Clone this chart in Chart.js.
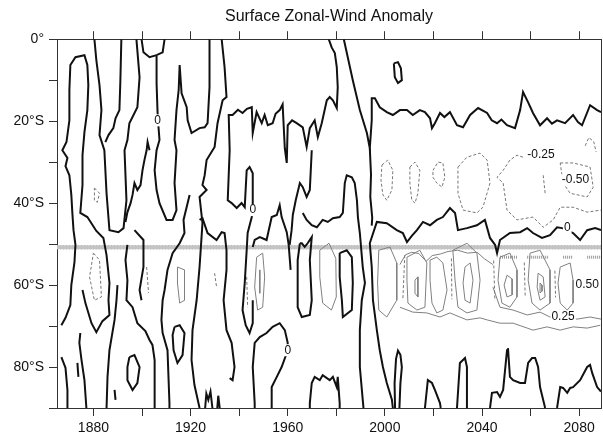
<!DOCTYPE html>
<html>
<head>
<meta charset="utf-8">
<script src="https://cdn.jsdelivr.net/npm/chart.js@4.4.1/dist/chart.umd.min.js"></script>
<style>
  body { margin: 0; background: #fff; }
  #wrap { width: 603px; height: 438px; }
</style>
</head>
<body>
<div id="wrap"><canvas id="chart1" width="603" height="438"></canvas></div>
<script>
// axis ticks
var yearTicks = [1880, 1900, 1920, 1940, 1960, 1980, 2000, 2020, 2040, 2060, 2080];
var latTicks = [0, 10, 20, 30, 40, 50, 60, 70, 80, 90];

// zero contours (thick black), points are [year, latitude south]
var zeroLines = [
  [[1866.8,69.8],[1868.5,68.0],[1870.5,64.9],[1870.9,60.0],[1872.2,54.4],[1872.6,50.2],[1871.8,46.6],[1871.3,42.2],[1870.9,38.0],[1870.1,33.2],[1868.5,31.0],[1869.3,29.0],[1867.2,27.1],[1868.9,25.1],[1870.1,19.8],[1870.1,12.4],[1870.5,6.3],[1872.6,4.4],[1876.3,3.9],[1877.5,6.3],[1877.9,11.2],[1877.5,17.3],[1876.3,22.7],[1875.5,28.3],[1875.5,35.6],[1874.6,42.4],[1877.5,43.4],[1881.2,46.8],[1884.1,48.5],[1885.4,52.7],[1886.6,59.5],[1886.2,63.7],[1886.6,67.3],[1883.7,68.8],[1881.2,71.5],[1879.2,69.3],[1876.7,64.4],[1875.5,61.2]],
  [[1866.8,77.6],[1868.5,80.2],[1869.3,85.6],[1869.3,90]],
  [[1877.1,90],[1876.3,83.2],[1875.1,78.3],[1874.2,74.1],[1874.6,71.7]],
  [[1880.4,0],[1881.2,5.1],[1882.5,11.2],[1883.3,17.3],[1882.5,23.4],[1884.5,27.1],[1885.4,37.6],[1886.6,46.6],[1890.3,47.1],[1892.4,46.1],[1893.6,39.3],[1892.8,27.1],[1894.0,24.6],[1894.8,20.5],[1898.1,16.6],[1899.0,9.3],[1897.7,0]],
  [[1891.5,0],[1891.1,10.0],[1890.7,17.3],[1889.1,19.3],[1888.2,21.7],[1886.2,23.4],[1884.9,25.1]],
  [[1899.8,0],[1900.6,3.2],[1903.1,4.4],[1906.0,3.9],[1908.5,3.2],[1909.3,0]],
  [[1906.0,4.1],[1906.0,10.7],[1906.4,17.8],[1906.8,21.5],[1907.2,24.6],[1906.0,27.1],[1905.2,32.0],[1906.0,36.8],[1907.2,40.0],[1910.1,44.1],[1912.6,44.1],[1914.2,41.7],[1913.4,35.1],[1914.2,27.1],[1913.4,24.6],[1914.2,17.3],[1915.1,12.4],[1915.5,6.3],[1916.3,13.2],[1918.4,16.6],[1918.8,19.8],[1920.4,22.9],[1923.7,21.7],[1925.8,21.5],[1927.0,20.5],[1927.8,11.7],[1927.8,0]],
  [[1903.1,27.1],[1902.3,25.1],[1901.9,27.1],[1901.0,29.5],[1900.2,32.0],[1899.4,35.6],[1898.1,36.8],[1896.9,35.1],[1896.1,38.0],[1895.3,40.0],[1894.0,42.2],[1893.2,44.6]],
  [[1932.8,0],[1934.0,6.8],[1934.8,14.1],[1933.2,14.9],[1931.1,20.5],[1929.9,26.3],[1926.6,29.5],[1925.8,33.2],[1924.9,35.6],[1926.6,36.8],[1923.7,38.5],[1924.9,44.9],[1923.7,55.6],[1922.5,63.7],[1920.8,71.0],[1920.4,78.3],[1921.6,84.4],[1923.7,90]],
  [[1945.6,63.7],[1945.6,69.3],[1944.3,71.7],[1942.7,69.8],[1941.4,66.1],[1942.3,59.5],[1943.1,51.5],[1943.5,47.3],[1945.2,43.4],[1945.6,40.5],[1945.6,32.7],[1944.3,31.2],[1943.1,32.0],[1942.3,41.0],[1941.0,40.0],[1939.0,41.2],[1936.9,40.0],[1935.3,39.3],[1936.1,27.1],[1935.7,18.5],[1937.3,18.5],[1939.5,17.2],[1941.4,18.0],[1943.2,17.0],[1945.2,16.6],[1945.6,22.9],[1947.2,17.8],[1949.3,20.5],[1950.5,18.5],[1951.8,21.0],[1953.8,20.5],[1955.0,18.2],[1956.7,17.3],[1957.9,15.9],[1958.8,26.6],[1959.6,30.2],[1960.0,21.0],[1961.8,19.8],[1963.7,20.5],[1966.2,21.5],[1967.8,26.3],[1969.1,21.7],[1971.1,19.8],[1972.4,23.9],[1974.0,20.5],[1976.1,14.9],[1977.3,14.1],[1978.6,14.9],[1980.2,16.8],[1980.6,11.7],[1980.2,6.8],[1979.4,3.4],[1978.1,2.0],[1976.9,0]],
  [[1923.7,44.1],[1924.9,43.7],[1927.0,47.3],[1930.7,49.0],[1932.8,47.1],[1934.0,47.3],[1934.8,51.5],[1934.8,56.3],[1933.6,63.7],[1934.8,71.0],[1936.9,74.1],[1938.1,80.0],[1937.3,83.2],[1936.1,82.7]],
  [[1945.6,50.7],[1946.4,49.0],[1948.5,48.3],[1951.3,49.0],[1953.4,43.4],[1955.5,42.9],[1956.7,40.5],[1957.5,43.4],[1959.6,47.1],[1960.4,50.2],[1961.2,56.3]],
  [[1969.9,27.1],[1969.1,36.8],[1967.8,38.5],[1966.2,36.1],[1965.0,35.1],[1963.3,39.3],[1962.1,42.9],[1961.6,46.6],[1960.8,50.2]],
  [[1965.0,49.8],[1964.1,53.9],[1964.1,65.4],[1965.8,67.8],[1969.1,67.3],[1969.9,63.7],[1969.1,53.9],[1969.9,48.3],[1968.2,49.8],[1967.0,50.7],[1965.8,49.8],[1965.0,49.8]],
  [[1966.2,42.4],[1967.8,44.1],[1969.9,45.4],[1972.0,45.9],[1974.4,44.1],[1976.5,44.6],[1978.6,43.7],[1981.4,43.4],[1982.7,42.4],[1983.5,35.1],[1984.3,33.2],[1986.4,33.7],[1987.6,35.1],[1988.5,39.3],[1988.9,43.4],[1989.7,47.3],[1990.9,55.6],[1991.8,59.5],[1990.5,63.7],[1989.7,71.0],[1989.7,80.0],[1990.9,88.0],[1991.2,90]],
  [[1983.1,0],[1986.8,10.0],[1989.7,17.3],[1992.6,22.9],[1993.8,26.6],[1994.6,19.8],[1994.6,14.4],[1995.9,14.4],[1997.9,16.6],[2000.8,17.8],[2003.3,18.5],[2006.2,17.3],[2009.1,17.3],[2011.5,18.5],[2014.4,17.3],[2016.5,17.8],[2018.6,19.3],[2019.4,21.7],[2020.6,20.5],[2022.7,18.0],[2024.5,19.0],[2026.8,17.8],[2029.7,21.0],[2032.2,21.5],[2035.1,18.5],[2038.4,16.8],[2042.1,18.0],[2044.0,19.8],[2046.2,20.5],[2048.0,19.6],[2050.3,21.0],[2053.6,21.7],[2055.7,17.3],[2056.9,12.9],[2059.0,15.4],[2061.0,18.0],[2063.9,21.0],[2066.8,19.3],[2068.8,20.6],[2070.9,19.8],[2074.2,20.5],[2077.5,18.5],[2079.5,20.2],[2081.2,21.0],[2084.5,16.1],[2087.4,17.3],[2089,17.8]],
  [[1993.8,26.6],[1994.3,33.0],[1994.0,38.5],[1994.8,43.5],[1994.6,45.5]],
  [[2003.3,90],[2002.9,88.0],[2000.8,83.9],[1999.2,80.0],[1997.9,75.9],[1996.7,71.0],[1995.1,63.7],[1994.6,55.6],[1993.8,49.8],[1996.7,44.6],[2000.8,44.9],[2004.9,46.6],[2007.4,47.3],[2009.1,49.5],[2011.1,48.0],[2013.2,46.6],[2015.7,44.6],[2018.6,45.4],[2021.4,44.1],[2023.9,43.4],[2026.8,41.2],[2028.9,42.4],[2030.1,46.6],[2033.8,46.1],[2037.9,45.4],[2041.2,44.1],[2043.3,48.5],[2045.4,50.2],[2046.2,52.2],[2047.4,49.0],[2051.5,47.3],[2055.7,47.1],[2058.6,46.1],[2061.0,47.3],[2064.7,48.5],[2068.0,47.8],[2070.9,45.9],[2073.0,46.1],[2077.5,47.3],[2080.4,49.0],[2083.3,46.6],[2086.6,46.1],[2089,46.6]],
  [[1981.4,52.2],[1984.3,51.5],[1986.4,53.2],[1986.8,59.5],[1986.4,66.1],[1982.7,67.8],[1982.3,63.7],[1981.4,58.0],[1981.4,52.2]],
  [[2003.7,5.9],[2005.4,5.6],[2006.6,7.1],[2007.0,10.0],[2005.4,10.7],[2004.1,9.3],[2003.7,5.9]],
  [[1919.6,38.0],[1917.1,44.1],[1917.5,47.3],[1915.5,49.8],[1912.6,52.2],[1910.5,56.3],[1909.3,61.2],[1908.5,63.7],[1908.0,68.5],[1908.5,71.7],[1910.5,75.9],[1911.3,88.8],[1911.3,90]],
  [[1889.9,60.0],[1889.5,63.7],[1888.7,68.5],[1886.6,75.9],[1885.8,82.4],[1885.4,90]],
  [[1894.0,50.2],[1893.2,53.9],[1894.0,58.8],[1893.6,63.7],[1896.1,65.4],[1898.1,69.3],[1901.4,71.2],[1903.1,73.4],[1904.3,74.6],[1905.2,78.3],[1905.2,90]],
  [[1896.9,46.6],[1900.6,49.0],[1900.6,55.6],[1899.0,61.2],[1899.8,63.7]],
  [[1913.4,70.2],[1915.5,69.8],[1917.5,71.7],[1916.7,77.1],[1914.6,79.0],[1913.0,75.9],[1912.6,72.2],[1913.4,70.2]],
  [[1894.8,77.6],[1896.9,77.1],[1899.0,80.0],[1898.1,83.9],[1896.1,85.6],[1894.0,83.2],[1894.0,80.0],[1894.8,77.6]],
  [[1873.4,79.0],[1873.8,82.4]],
  [[1888.7,85.6],[1889.1,88.0]],
  [[1946.4,90],[1946.4,88.8],[1945.6,80.0],[1946.4,74.1],[1948.5,72.7],[1951.3,71.7],[1953.8,70.2],[1956.7,69.3],[1958.8,71.0],[1960.0,74.1],[1959.6,76.6],[1957.5,80.0],[1955.5,82.4],[1953.4,84.9],[1953.4,90]],
  [[1969.1,90],[1969.1,88.8],[1969.9,83.9],[1971.1,82.4],[1973.2,83.2],[1974.4,82.0],[1977.3,83.2],[1978.6,82.4],[1980.2,84.9],[1980.6,82.4],[1981.4,88.8],[1981.4,90]],
  [[2004.2,90],[2004.0,84.0],[2004.6,78.0],[2005.4,76.0],[2006.4,77.0],[2007.0,80.0],[2006.4,84.0],[2006.0,90]],
  [[2016.5,90],[2017.7,83.2],[2019.4,83.9],[2020.6,85.6],[2022.7,88.8],[2023.0,90]],
  [[2029.7,90],[2030.9,79.0],[2033.0,77.8],[2033.8,80.0],[2033.8,90]],
  [[2043.3,90],[2044.1,86.3],[2046.2,86.1],[2047.4,87.3],[2048.7,85.6],[2050.3,75.9],[2050.7,75.4],[2051.5,82.4],[2052.8,83.2],[2055.7,83.9],[2057.7,83.9],[2059.0,79.0],[2060.6,77.8],[2061.9,77.8],[2063.1,80.0],[2063.9,84.9],[2066.0,90]],
  [[2070.9,90],[2072.2,84.9],[2073.4,85.1],[2075.1,86.3],[2076.3,85.1],[2077.5,84.9],[2080.4,83.2],[2083.3,80.0],[2084.5,79.5],[2085.4,81.5],[2087.4,84.9],[2089,86.0]],
  [[1926.0,90],[1926.5,86.5],[1927.3,88.0],[1928.2,86.0],[1929.0,90]],
  [[1931.0,90],[1931.4,87.0],[1932.0,90]]
];

// negative contours (dashed grey)
var negLines = [
  [[1998.8,30.7],[2001.2,29.5],[2003.3,32.0],[2002.9,36.8],[2000.8,39.3],[1999.2,38.0],[1998.4,34.4],[1998.8,30.7]],
  [[2010.3,31.2],[2012.4,30.0],[2014.4,32.0],[2013.6,37.6],[2012.4,40.0],[2011.1,39.3],[2010.3,35.1],[2010.3,31.2]],
  [[2019.8,32.0],[2021.9,30.0],[2023.9,30.2],[2024.7,33.7],[2023.5,36.1],[2021.4,35.1],[2019.8,33.7],[2019.8,32.0]],
  [[2030.1,31.2],[2033.8,28.8],[2039.2,27.8],[2042.1,29.5],[2043.3,35.1],[2040.4,41.0],[2037.9,42.4],[2032.2,41.7],[2030.1,37.6],[2030.1,31.2]],
  [[2056.9,28.8],[2054.4,28.3],[2051.5,29.5],[2048.7,32.0],[2046.2,33.7],[2048.7,35.1],[2050.3,41.7],[2054.4,44.1],[2061.0,43.4],[2065.2,45.9],[2069.3,44.1],[2072.2,41.0],[2077.5,41.0],[2083.3,42.2],[2089,41.7]],
  [[2072.2,30.2],[2077.5,30.2],[2084.5,31.2],[2085.8,36.1],[2083.3,38.5],[2076.3,37.6],[2073.4,35.1],[2072.2,30.2]],
  [[2082.5,26.0],[2084.0,24.0],[2086.0,25.0],[2087.0,27.5]],
  [[2065.2,33.2],[2066.0,37.6]],
  [[1880.0,52.2],[1882.5,53.9],[1883.3,62.9],[1880.4,63.7],[1878.4,58.0],[1880.0,52.2]],
  [[1880.4,36.3],[1882.5,37.6],[1881.6,39.8],[1880.4,39.3],[1880.4,36.3]],
  [[1901.9,55.6],[1902.7,61.9]],
  [[1929.9,57.1],[1930.7,60.5]],
  [[1943.1,58.0],[1943.5,65.4]],
  [[2008.2,52.7],[2007.4,63.7]],
  [[2027.4,53.5],[2027.6,63.5]],
  [[2044.8,54.0],[2045.3,63.8]],
  [[2057.4,54.5],[2057.8,63.0]],
  [[2070.0,56.5],[2070.3,63.0]]
];

// positive contours (thin grey)
var posLines = [
  [[2006.2,65.4],[2011.5,66.6],[2017.3,66.8],[2022.7,67.8],[2026.8,66.8],[2030.9,67.8],[2033.8,68.5],[2039.2,68.0],[2042.1,68.5],[2047.4,69.3],[2052.8,69.3],[2058.6,70.5],[2061.0,71.0],[2066.8,70.2],[2072.2,71.0],[2077.5,70.2],[2083.3,70.5],[2088.7,69.8]],
  [[2044.5,60.5],[2047.4,65.4],[2052.8,66.1],[2058.6,67.3],[2063.9,66.6],[2068.0,67.8],[2079.2,68.3],[2084.5,67.8],[2089,68.3]],
  [[2006.2,55.0],[2008.5,52.6],[2011.0,52.0],[2014.0,52.3],[2017.0,54.2],[2019.5,52.8],[2023.0,52.4],[2026.0,51.8],[2030.0,51.5],[2034.0,52.2],[2038.0,52.0],[2041.0,53.6],[2044.5,55.0]],
  [[2009.1,53.2],[2014.4,51.5],[2017.3,54.6],[2016.5,65.4],[2013.2,66.1],[2009.5,64.4],[2009.1,58.8],[2009.1,53.2]],
  [[2012.4,58.8],[2013.6,58.0],[2013.6,62.9],[2012.4,62.0],[2012.4,58.8]],
  [[2018.6,53.9],[2021.4,53.2],[2023.9,54.6],[2025.6,61.2],[2023.9,66.1],[2021.4,66.8],[2019.4,64.4],[2018.6,58.8],[2018.6,53.9]],
  [[2028.0,51.5],[2033.8,49.8],[2037.9,52.2],[2039.2,58.8],[2037.9,66.1],[2033.8,66.8],[2030.1,65.4],[2028.9,58.8],[2028.0,51.5]],
  [[2033.0,55.6],[2035.1,54.6],[2036.3,58.8],[2035.1,64.4],[2033.0,63.7],[2032.2,59.5],[2033.0,55.6]],
  [[2047.4,53.2],[2051.5,52.2],[2054.4,56.3],[2054.4,62.9],[2051.5,65.4],[2048.2,64.4],[2046.6,58.8],[2047.4,53.2]],
  [[2050.3,57.6],[2052.4,58.5],[2052.4,62.4],[2050.3,62.9],[2049.1,60.0],[2050.3,57.6]],
  [[2059.8,52.2],[2063.9,51.5],[2068.0,56.3],[2068.0,64.4],[2063.9,66.1],[2060.6,64.4],[2059.0,58.8],[2059.8,52.2]],
  [[2063.1,57.1],[2065.2,58.0],[2066.0,62.9],[2063.9,63.7],[2062.7,60.5],[2063.1,57.1]],
  [[2063.9,59.5],[2064.7,60.0],[2064.7,61.5],[2063.9,61.9],[2063.9,59.5]],
  [[2072.2,55.6],[2076.3,54.6],[2077.5,58.8],[2077.5,64.4],[2075.1,66.1],[2072.2,64.4],[2071.3,59.5],[2072.2,55.6]],
  [[1947.2,53.2],[1949.7,52.2],[1950.5,58.0],[1949.7,65.4],[1947.6,66.1],[1946.4,60.5],[1947.2,53.2]],
  [[1948.5,56.3],[1948.5,62.0]],
  [[1973.2,51.5],[1977.0,49.8],[1979.8,53.5],[1980.0,62.9],[1978.0,66.1],[1974.4,64.4],[1973.2,58.0],[1973.2,51.5]],
  [[1997.5,51.5],[2002.1,50.7],[2004.9,54.6],[2004.9,63.7],[2000.8,67.8],[1997.5,66.1],[1997.0,59.5],[1997.5,51.5]],
  [[1914.6,55.6],[1917.5,56.3],[1917.5,63.7],[1915.5,64.4],[1914.6,59.5],[1914.6,55.6]]
];

// hatched band
var bandLat = 50.8;
var bandYears = [1865, 2089];
var band2Lat = 53.2;
var band2Segments = [[2047.4, 2054.4], [2058.6, 2067.2], [2073.4, 2077.5], [2083.3, 2088.7]];

// contour labels
var labelTexts = ['0', '0', '0', '0', '-0.25', '-0.50', '0.50', '0.25'];
var labelYears = [1906.4, 1945.6, 1960.0, 2075.1, 2064.3, 2078.5, 2083.3, 2073.4];
var labelLats = [19.8, 41.7, 75.9, 46.1, 28.3, 34.4, 60.0, 67.8];

function toPts(arr) {
  return arr.map(function(p) { return {x: p[0], y: p[1]}; });
}

var datasets = [];

negLines.forEach(function(l) {
  datasets.push({
    data: toPts(l), showLine: true, borderColor: '#777', borderWidth: 1,
    borderDash: [3, 2], pointRadius: 0, tension: 0
  });
});
posLines.forEach(function(l) {
  datasets.push({
    data: toPts(l), showLine: true, borderColor: '#808080', borderWidth: 1,
    pointRadius: 0, tension: 0
  });
});
zeroLines.forEach(function(l) {
  datasets.push({
    data: toPts(l), showLine: true, borderColor: '#111', borderWidth: 2,
    pointRadius: 0, tension: 0
  });
});
// band on top, like the reference
datasets.push({
  data: [{x: bandYears[0], y: bandLat}, {x: bandYears[1], y: bandLat}],
  showLine: true, borderColor: '#c4c4c4', borderWidth: 4, pointRadius: 0
});
datasets.push({
  data: [{x: bandYears[0], y: bandLat}, {x: bandYears[1], y: bandLat}],
  showLine: true, borderColor: '#7a7a7a', borderWidth: 4, borderDash: [1, 2], pointRadius: 0
});
band2Segments.forEach(function(s) {
  datasets.push({
    data: [{x: s[0], y: band2Lat}, {x: s[1], y: band2Lat}],
    showLine: true, borderColor: '#999', borderWidth: 3, borderDash: [1, 1], pointRadius: 0
  });
});

var fontFam = '"Liberation Sans", Arial, Helvetica, sans-serif';

//draw contour labels on a white patch
var labelPlugin = {
  id: 'contourLabels',
  afterDatasetsDraw: function(chart) {
    var ctx = chart.ctx;
    var x = chart.scales.x, y = chart.scales.y;
    ctx.save();
    ctx.font = '12px ' + fontFam;
    ctx.textAlign = 'center';
    ctx.textBaseline = 'middle';
    for (var i = 0; i < labelTexts.length; i++) {
      var px = x.getPixelForValue(labelYears[i]);
      var py = y.getPixelForValue(labelLats[i]);
      var w = ctx.measureText(labelTexts[i]).width;
      ctx.fillStyle = '#fff';
      ctx.fillRect(px - w / 2 - 1, py - 6, w + 2, 12);
      ctx.fillStyle = '#111';
      ctx.fillText(labelTexts[i], px, py);
    }
    ctx.restore();
  }
};

function setYearTicks(scale) {
  scale.ticks = yearTicks.map(function(v) { return {value: v}; });
}
function setLatTicks(scale) {
  scale.ticks = latTicks.map(function(v) { return {value: v}; });
}

var axisGrid = { drawOnChartArea: false, drawTicks: true, tickLength: 8, color: '#333', lineWidth: 1 };
var axisBorder = { display: true, color: '#333', width: 1 };

var ctx = document.getElementById('chart1').getContext('2d');
var myChart = new Chart(ctx, {
  type: 'scatter',
  data: { datasets: datasets },
  options: {
    responsive: false,
    animation: false,
    devicePixelRatio: 1,
    layout: { padding: 0 },
    plugins: {
      legend: { display: false },
      tooltip: { enabled: false },
      title: {
        display: true,
        text: 'Surface Zonal-Wind Anomaly',
        fullSize: false,
        color: '#111',
        font: { family: fontFam, size: 16, weight: 'normal' },
        padding: { top: 7, bottom: 5 }
      }
    },
    scales: {
      x: {
        type: 'linear', position: 'bottom', min: 1865, max: 2089,
        afterBuildTicks: setYearTicks,
        afterFit: function(s) { s.height = 30; },
        grid: axisGrid, border: axisBorder,
        ticks: {
          autoSkip: false, maxRotation: 0, padding: 4, color: '#111',
          font: { family: fontFam, size: 14 },
          callback: function(v) { return v % 40 === 0 ? String(v) : ''; }
        }
      },
      xt: {
        type: 'linear', position: 'top', min: 1865, max: 2089,
        afterBuildTicks: setYearTicks,
        afterFit: function(s) { s.height = 8; },
        grid: axisGrid, border: axisBorder,
        ticks: { autoSkip: false, display: false }
      },
      y: {
        type: 'linear', position: 'left', min: 0, max: 90, reverse: true,
        afterBuildTicks: setLatTicks,
        afterFit: function(s) { s.width = 57; },
        grid: axisGrid, border: axisBorder,
        ticks: {
          autoSkip: false, padding: 5, color: '#111',
          font: { family: fontFam, size: 14 },
          callback: function(v) {
            if (v % 20 !== 0) return '';
            return v === 0 ? '0\u00B0' : v + '\u00B0S';
          }
        }
      },
      yr: {
        type: 'linear', position: 'right', min: 0, max: 90, reverse: true,
        afterFit: function(s) { s.width = 2; },
        grid: { drawOnChartArea: false, drawTicks: false },
        border: axisBorder,
        ticks: { display: false }
      }
    }
  },
  plugins: [labelPlugin]
});
</script>
</body>
</html>
